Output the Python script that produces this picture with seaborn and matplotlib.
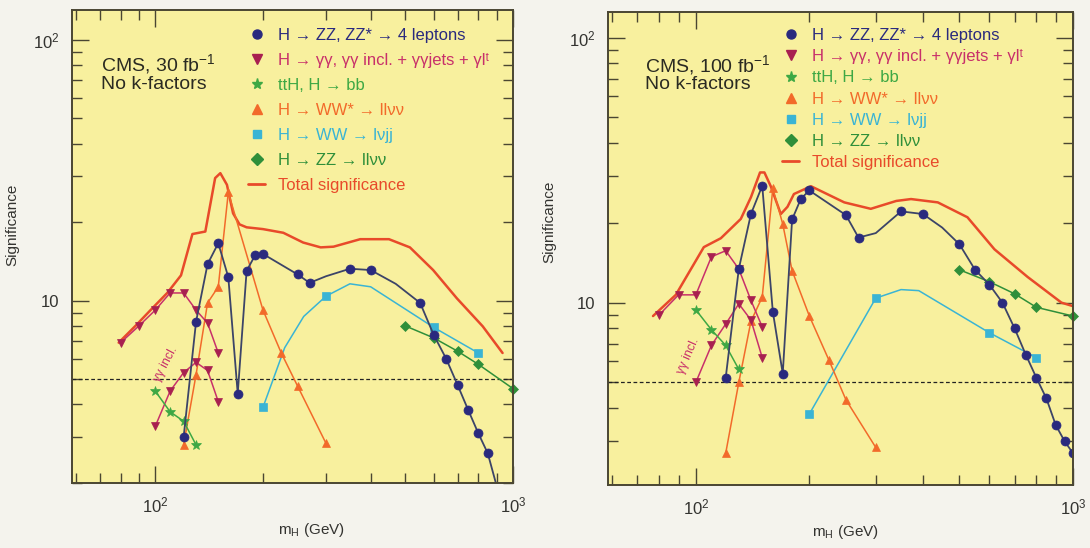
import numpy as np
import matplotlib
matplotlib.use("Agg")
import matplotlib.pyplot as plt
from matplotlib.lines import Line2D
from matplotlib.ticker import FixedLocator, LogLocator, FuncFormatter, NullFormatter
import seaborn as sns

# ---------------- data ----------------
# Left panel: CMS 30 fb-1
L_zz4l_m = [120, 130, 140, 150, 160, 170, 180, 190, 200, 250, 270, 300, 350, 400, 470, 550, 600, 650, 700, 750, 800, 850, 900]
L_zz4l_s = [3.0, 8.3, 13.8, 16.6, 12.3, 4.4, 13.0, 14.9, 15.1, 12.6, 11.7, 12.4, 13.25, 13.1, 11.6, 9.8, 7.4, 6.0, 4.75, 3.8, 3.1, 2.6, 1.95]
L_zz4l_mk = [True]*11 + [False] + [True, True, False] + [True]*7 + [False]

L_gg_m = [80, 90, 100, 110, 120, 130, 140, 150]
L_gg_s = [6.9, 8.0, 9.2, 10.7, 10.7, 9.2, 8.2, 6.3]
L_ggi_m = [100, 110, 120, 130, 140, 150]
L_ggi_s = [3.3, 4.5, 5.3, 5.8, 5.4, 4.1]

L_tth_m = [100, 110, 120, 130]
L_tth_s = [4.5, 3.75, 3.45, 2.8]

L_ww_m = [120, 130, 140, 150, 160, 200, 225, 250, 300]
L_ww_s = [2.8, 5.2, 9.8, 11.3, 26.0, 9.2, 6.3, 4.7, 2.84]

L_wwjj_m = [200, 230, 260, 300, 350, 400, 600, 800]
L_wwjj_s = [3.9, 6.6, 8.7, 10.4, 11.6, 11.3, 7.9, 6.3]
L_wwjj_mk = [True, False, False, True, False, False, True, True]

L_zznn_m = [500, 600, 700, 800, 1000]
L_zznn_s = [8.0, 7.2, 6.4, 5.7, 4.6]

L_tot_m = [79, 88, 97, 108, 118, 127, 138, 147, 152, 158.6, 165, 172, 180, 200, 228, 259, 290, 315, 374, 450, 515, 598, 697, 823, 935]
L_tot_s = [6.9, 8.0, 9.2, 10.7, 12.5, 18.0, 18.4, 29.5, 30.8, 27.8, 21.6, 19.6, 19.1, 18.8, 18.2, 16.7, 16.0, 16.1, 17.2, 17.2, 16.0, 13.1, 10.2, 7.97, 6.3]

# Right panel: CMS 100 fb-1
R_zz4l_m = [120, 130, 140, 150, 160, 170, 180, 190, 200, 250, 270, 300, 350, 400, 450, 500, 550, 600, 650, 700, 750, 800, 850, 900, 950, 1000]
R_zz4l_s = [5.2, 13.4, 21.6, 27.6, 9.25, 5.4, 20.6, 24.7, 26.5, 21.4, 17.6, 18.3, 22.1, 21.6, 19.2, 16.6, 13.3, 11.7, 10.0, 8.0, 6.35, 5.2, 4.35, 3.45, 3.0, 2.7]
R_zz4l_mk = [True]*11 + [False, True, True, False] + [True]*11

R_gg_m = [80, 90, 100, 110, 120, 130, 140, 150]
R_gg_s = [9.0, 10.7, 10.7, 14.9, 15.7, 13.4, 10.2, 8.1]
R_ggi_m = [100, 110, 120, 130, 140, 150]
R_ggi_s = [5.0, 6.9, 8.3, 9.9, 8.6, 6.2]

R_tth_m = [100, 110, 120, 130]
R_tth_s = [9.4, 7.9, 6.9, 5.6]

R_ww_m = [120, 130, 140, 150, 160, 170, 180, 200, 225, 250, 300]
R_ww_s = [2.7, 5.0, 8.5, 10.5, 27.0, 19.8, 13.2, 8.9, 6.1, 4.3, 2.84]

R_wwjj_m = [200, 300, 350, 390, 600, 800]
R_wwjj_s = [3.8, 10.4, 11.2, 11.1, 7.7, 6.2]
R_wwjj_mk = [True, True, False, False, True, True]

R_zznn_m = [500, 600, 700, 800, 1000]
R_zznn_s = [13.3, 12.0, 10.8, 9.6, 8.9]

R_tot_m = [77, 88.5, 105, 116.5, 131.6, 140, 148, 152, 158, 168, 175, 182, 202, 247.5, 291, 340, 372, 438, 525, 619, 758, 932, 1000]
R_tot_s = [8.9, 10.7, 16.2, 17.5, 20.7, 25.0, 31.0, 31.0, 27.5, 21.6, 23.0, 25.7, 27.5, 23.9, 22.6, 24.2, 24.6, 23.9, 21.0, 15.9, 12.5, 10.0, 9.7]

labels = ["H \u2192 ZZ, ZZ* \u2192 4 leptons",
          "H \u2192 \u03b3\u03b3, \u03b3\u03b3 incl. + \u03b3\u03b3jets + \u03b3l\u1d57",
          "ttH, H \u2192 bb",
          "H \u2192 WW* \u2192 ll\u03bd\u03bd",
          "H \u2192 WW \u2192 l\u03bdjj",
          "H \u2192 ZZ \u2192 ll\u03bd\u03bd",
          "Total significance"]
panel_titles = ["CMS, 30 fb$^{-1}$", "CMS, 100 fb$^{-1}$"]

# ---------------- style ----------------
sns.set_style("ticks")
plt.rcParams['font.family'] = ['Liberation Sans', 'DejaVu Sans']
plt.rcParams['mathtext.fontset'] = 'custom'
plt.rcParams['mathtext.rm'] = 'Liberation Sans'
plt.rcParams['mathtext.it'] = 'Liberation Sans:italic'

C_ZZ = '#2a2a7e'
C_ZZL = '#3c4468'
C_GG = '#c8306a'
C_GGM = '#a82050'
C_TTH = '#3ea844'
C_WW = '#f26a2a'
C_JJ = '#3ab4d4'
C_NN = '#2f8f3a'
C_TOT = '#e84a2a'
AX_BG = '#f8f09e'
FIG_BG = '#f4f3ed'
FRAME = '#4a4632'
TXT = '#333330'

fig = plt.figure(figsize=(10.9, 5.48), dpi=100, facecolor=FIG_BG)
ax1 = fig.add_axes([72/1090, 1-483/548, 441/1090, 473/548])
ax2 = fig.add_axes([608/1090, 1-485/548, 465/1090, 473/548])


def series(ax, m, s, color, marker, ms, lw=1.1, mk=None, mcolor=None, clip=True):
    kw = dict(x=m, y=s, ax=ax, color=color, marker=marker, markersize=ms,
              markeredgecolor=mcolor or color, markerfacecolor=mcolor or color,
              markeredgewidth=0.5, lw=lw, sort=False, estimator=None, legend=False)
    if mk is not None:
        kw['markevery'] = mk
    sns.lineplot(**kw)
    if not clip:
        ax.lines[-1].set_clip_on(False)


def panel(ax, d, title, leg_xy, leg_spacing, ylim, txt_xy, ggtxt):
    ax.set_facecolor(AX_BG)
    ax.set_xscale('log')
    ax.set_yscale('log')
    ax.axhline(5, color='#222222', lw=0.9, ls=(0, (3, 2)), zorder=1)
    series(ax, d['tot_m'], d['tot_s'], C_TOT, None, 0, lw=1.8)
    series(ax, d['wwjj_m'], d['wwjj_s'], C_JJ, 's', 6, mk=d['wwjj_mk'])
    series(ax, d['ww_m'], d['ww_s'], C_WW, '^', 6)
    series(ax, d['gg_m'], d['gg_s'], C_GG, 'v', 6, mcolor=C_GGM)
    series(ax, d['ggi_m'], d['ggi_s'], C_GG, 'v', 6, mcolor=C_GGM)
    series(ax, d['tth_m'], d['tth_s'], C_TTH, '*', 7.5)
    series(ax, d['zznn_m'], d['zznn_s'], C_NN, 'D', 5.5, clip=False)
    series(ax, d['zz4l_m'], d['zz4l_s'], C_ZZL, 'o', 6.5, lw=1.3, mk=d['zz4l_mk'], mcolor=C_ZZ)

    ax.set_xlim(58.5, 1000)
    ax.set_ylim(*ylim)
    ax.xaxis.set_major_locator(FixedLocator([100, 1000]))
    ax.yaxis.set_major_locator(FixedLocator([10, 100]))
    ax.xaxis.set_minor_locator(LogLocator(base=10, subs=np.arange(2, 10)))
    ax.yaxis.set_minor_locator(LogLocator(base=10, subs=np.arange(2, 10)))
    fmt = FuncFormatter(lambda v, p: {10: '10', 100: '10$^2$', 1000: '10$^3$'}.get(int(round(v)), ''))
    ax.xaxis.set_major_formatter(fmt)
    ax.yaxis.set_major_formatter(fmt)
    ax.xaxis.set_minor_formatter(NullFormatter())
    ax.yaxis.set_minor_formatter(NullFormatter())
    ax.tick_params(which='both', direction='in', top=True, right=True, colors=FRAME,
                   labelcolor=TXT, labelsize=12, width=1)
    ax.tick_params(which='major', length=12, pad=9)
    ax.tick_params(which='minor', length=7)
    for sp in ax.spines.values():
        sp.set_color(FRAME)
        sp.set_linewidth(1.4)

    ax.set_xlabel('m$_{\\rm H}$ (GeV)', fontsize=11, color=TXT)
    ax.set_ylabel('Significance', fontsize=11, color=TXT)

    ax.text(txt_xy[0], txt_xy[1], title, transform=ax.transAxes, fontsize=14,
            color='#2a2a22', va='baseline', ha='left')
    ax.text(txt_xy[0], txt_xy[1] - 0.038, 'No k-factors', transform=ax.transAxes,
            fontsize=14, color='#2a2a22', va='baseline', ha='left')
    ax.text(ggtxt[0], ggtxt[1], '\u03b3\u03b3 incl.', fontsize=9, color=C_GG,
            rotation=ggtxt[2], ha='center', va='center')

    handles = [
        Line2D([0], [0], ls='none', marker='o', ms=6.5, color=C_ZZ),
        Line2D([0], [0], ls='none', marker='v', ms=6.5, color=C_GGM),
        Line2D([0], [0], ls='none', marker='*', ms=8, color=C_TTH),
        Line2D([0], [0], ls='none', marker='^', ms=6.5, color=C_WW),
        Line2D([0], [0], ls='none', marker='s', ms=6, color=C_JJ),
        Line2D([0], [0], ls='none', marker='D', ms=6, color=C_NN),
        Line2D([0], [0], color=C_TOT, lw=2),
    ]
    tcols = [C_ZZ, C_GG, C_TTH, C_WW, C_JJ, C_NN, C_TOT]
    ax.legend(handles, labels, loc='upper left', bbox_to_anchor=leg_xy,
              frameon=False, fontsize=12, labelcolor=tcols, handlelength=1.0,
              handletextpad=0.75, labelspacing=leg_spacing, borderpad=0,
              borderaxespad=0)


dL = dict(zz4l_m=L_zz4l_m, zz4l_s=L_zz4l_s, zz4l_mk=L_zz4l_mk, gg_m=L_gg_m, gg_s=L_gg_s,
          ggi_m=L_ggi_m, ggi_s=L_ggi_s, tth_m=L_tth_m, tth_s=L_tth_s, ww_m=L_ww_m,
          ww_s=L_ww_s, wwjj_m=L_wwjj_m, wwjj_s=L_wwjj_s, wwjj_mk=L_wwjj_mk,
          zznn_m=L_zznn_m, zznn_s=L_zznn_s, tot_m=L_tot_m, tot_s=L_tot_s)
dR = dict(zz4l_m=R_zz4l_m, zz4l_s=R_zz4l_s, zz4l_mk=R_zz4l_mk, gg_m=R_gg_m, gg_s=R_gg_s,
          ggi_m=R_ggi_m, ggi_s=R_ggi_s, tth_m=R_tth_m, tth_s=R_tth_s, ww_m=R_ww_m,
          ww_s=R_ww_s, wwjj_m=R_wwjj_m, wwjj_s=R_wwjj_s, wwjj_mk=R_wwjj_mk,
          zznn_m=R_zznn_m, zznn_s=R_zznn_s, tot_m=R_tot_m, tot_s=R_tot_s)

panel(ax1, dL, panel_titles[0], (0.400, 0.962), 0.60, (2.0, 130), (0.066, 0.871), (107, 5.7, 62))
panel(ax2, dR, panel_titles[1], (0.375, 0.966), 0.37, (2.05, 125), (0.080, 0.875), (95.5, 6.3, 66))

ax1.yaxis.set_label_coords(-0.12, 0.545)
ax2.yaxis.set_label_coords(-0.11, 0.556)
ax1.xaxis.set_label_coords(0.544, -0.08)
ax2.xaxis.set_label_coords(0.51, -0.08)

fig.savefig('out.png', dpi=100, facecolor=FIG_BG)
